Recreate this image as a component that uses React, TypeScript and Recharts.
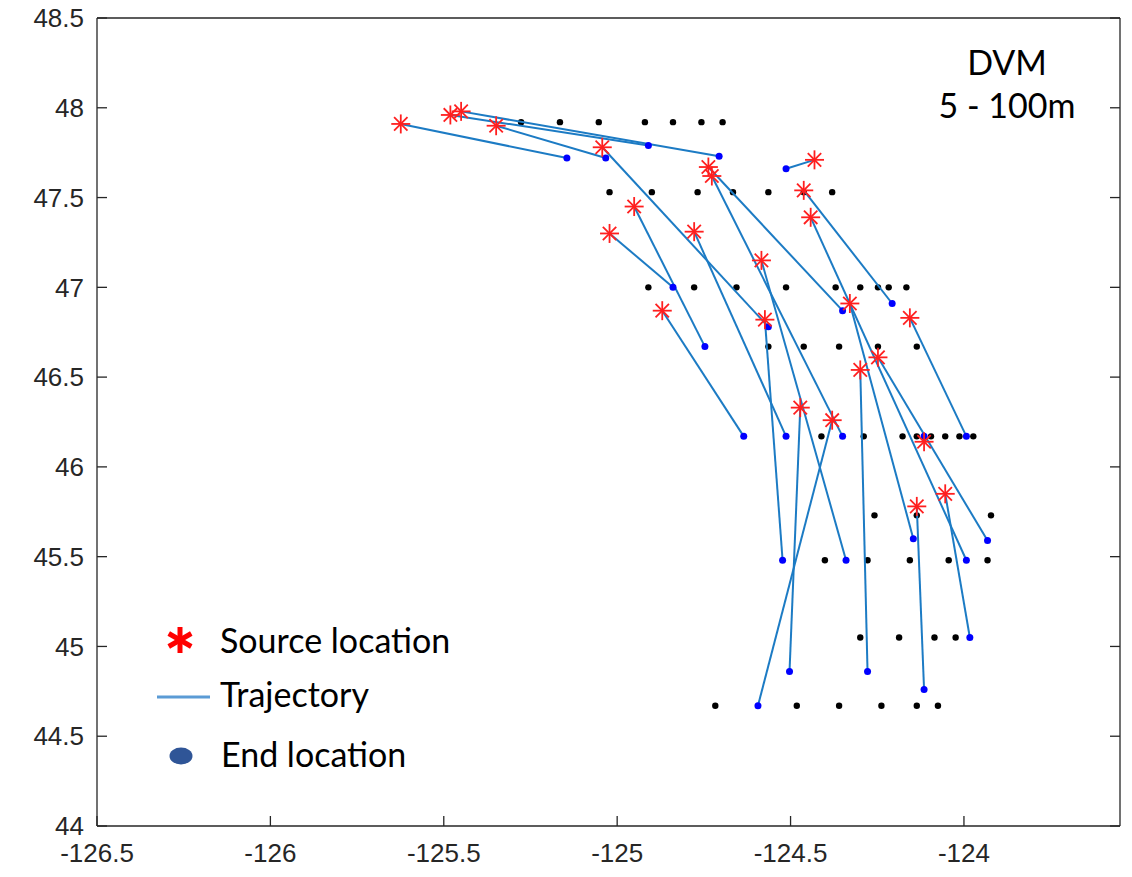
import React from 'react';
import { ScatterChart, Scatter, XAxis, YAxis } from 'recharts';

// chart size = whole window
const W = 1132;
const H = 877;

const lonTicks = [-126.5, -126, -125.5, -125, -124.5, -124];
const latTicks = [44, 44.5, 45, 45.5, 46, 46.5, 47, 47.5, 48, 48.5];

// release grid (black dots), [lon, lat]
const gridPoints: [number, number][] = [
  [-125.277, 47.92], [-125.165, 47.92], [-125.053, 47.92], [-124.92, 47.92], [-124.839, 47.92], [-124.757, 47.92], [-124.696, 47.92],
  [-125.022, 47.53], [-124.9, 47.53], [-124.768, 47.53], [-124.666, 47.53], [-124.564, 47.53], [-124.462, 47.53], [-124.38, 47.53],
  [-124.91, 47.0], [-124.778, 47.0], [-124.656, 47.0], [-124.513, 47.0], [-124.37, 47.0], [-124.299, 47.0], [-124.248, 47.0], [-124.217, 47.0], [-124.166, 47.0],
  [-124.564, 46.67], [-124.462, 46.67], [-124.36, 46.67], [-124.248, 46.67], [-124.136, 46.67],
  [-124.411, 46.17], [-124.289, 46.17], [-124.177, 46.17], [-124.136, 46.17], [-124.095, 46.17], [-124.054, 46.17], [-124.013, 46.17], [-123.973, 46.17],
  [-124.258, 45.73], [-124.136, 45.73], [-123.922, 45.73],
  [-124.401, 45.48], [-124.278, 45.48], [-124.156, 45.48], [-124.044, 45.48], [-123.932, 45.48],
  [-124.299, 45.05], [-124.187, 45.05], [-124.085, 45.05], [-124.024, 45.05],
  [-124.717, 44.67], [-124.482, 44.67], [-124.36, 44.67], [-124.238, 44.67], [-124.136, 44.67], [-124.075, 44.67],
];

// source locations (red asterisks)
const sourcePoints: [number, number][] = [
  [-125.624, 47.91], [-125.481, 47.96], [-125.45, 47.98], [-125.349, 47.9], [-125.043, 47.78],
  [-124.737, 47.67], [-124.727, 47.62], [-124.431, 47.71], [-124.462, 47.54], [-124.442, 47.39],
  [-124.951, 47.45], [-125.022, 47.3], [-124.778, 47.31], [-124.584, 47.15], [-124.87, 46.87],
  [-124.574, 46.82], [-124.329, 46.91], [-124.156, 46.83], [-124.248, 46.61], [-124.299, 46.54],
  [-124.472, 46.33], [-124.38, 46.26], [-124.115, 46.14], [-124.136, 45.78], [-124.054, 45.85],
];

// end locations (blue dots), same order as sources
const endPoints: [number, number][] = [
  [-125.145, 47.72], [-124.91, 47.79], [-124.706, 47.73], [-125.033, 47.72], [-124.564, 46.78],
  [-124.35, 46.87], [-124.35, 46.17], [-124.513, 47.66], [-124.207, 46.91], [-123.993, 45.48],
  [-124.747, 46.67], [-124.839, 47.0], [-124.513, 46.17], [-124.34, 45.48], [-124.635, 46.17],
  [-124.523, 45.48], [-124.146, 45.6], [-123.993, 46.17], [-123.932, 45.59], [-124.278, 44.86],
  [-124.503, 44.86], [-124.594, 44.67], [-124.115, 46.17], [-124.115, 44.76], [-123.983, 45.05],
];

const toXY = ([lon, lat]: [number, number]) => ({ lon, lat });
const gridData = gridPoints.map(toXY);
const sourceData = sourcePoints.map(toXY);
const endData = endPoints.map(toXY);
const trajectories = sourcePoints.map((s, i) => [toXY(s), toXY(endPoints[i])]);

const lonDomain = [-126.5, -123.55];
const latDomain = [44, 48.5];

const axisColor = '#262626';
const lineColor = '#1c7bc4';
const tickFont = { fill: axisColor, fontSize: 26, fontFamily: '"Liberation Sans", Arial, sans-serif' };
const textFont = 'Lato, "Open Sans", sans-serif';

const BlackDot = (p: any) => <circle cx={p.cx} cy={p.cy} r={3.2} fill="#000" />;
const BlueDot = (p: any) => <circle cx={p.cx} cy={p.cy} r={3.5} fill="#0000ff" />;
const Nothing = () => <g />;

// matlab style '*' marker
const Asterisk = (p: any) => {
  const { cx, cy } = p;
  const r = 9.5;
  const d = 6.7;
  return (
    <g stroke="#ff1f1f" strokeWidth={1.8}>
      <line x1={cx - r} y1={cy} x2={cx + r} y2={cy} />
      <line x1={cx} y1={cy - r} x2={cx} y2={cy + r} />
      <line x1={cx - d} y1={cy - d} x2={cx + d} y2={cy + d} />
      <line x1={cx - d} y1={cy + d} x2={cx + d} y2={cy - d} />
    </g>
  );
};

// legend + annotation drawn on top of the plot
const Overlay = () => {
  const ax = 180;
  const ay = 640;
  const a = 13;
  const c = Math.cos(Math.PI / 6) * a;
  const s = Math.sin(Math.PI / 6) * a;
  return (
    <svg width={W} height={H} style={{ position: 'absolute', left: 0, top: 0, pointerEvents: 'none' }}>
      <g fontFamily={textFont} fontSize={34} fill="#000">
        <text x={1007} y={75} textAnchor="middle">DVM</text>
        <text x={1007} y={118} textAnchor="middle">5 - 100m</text>

        <g stroke="#ff0000" strokeWidth={5}>
          <line x1={ax} y1={ay - a} x2={ax} y2={ay + a} />
          <line x1={ax - c} y1={ay - s} x2={ax + c} y2={ay + s} />
          <line x1={ax - c} y1={ay + s} x2={ax + c} y2={ay - s} />
        </g>
        <text x={220} y={653}>Source location</text>

        <line x1={157} y1={697} x2={210} y2={697} stroke="#5b9bd5" strokeWidth={3} />
        <text x={220} y={707}>Trajectory</text>

        <ellipse cx={181} cy={756} rx={11.5} ry={8.5} fill="#2f5597" />
        <text x={221} y={767}>End location</text>
      </g>
    </svg>
  );
};

export default function App() {
  return (
    <div style={{ position: 'absolute', left: 0, top: 0, width: W, height: H, background: '#fff' }}>
      <ScatterChart width={W} height={H} margin={{ top: 0, right: 0, bottom: 0, left: 0 }}>
        <XAxis
          type="number"
          dataKey="lon"
          domain={lonDomain}
          ticks={lonTicks}
          allowDataOverflow
          interval={0}
          height={51}
          tickSize={-10}
          tickMargin={28}
          stroke={axisColor}
          strokeWidth={1.3}
          tick={tickFont}
        />
        <XAxis
          xAxisId="top"
          orientation="top"
          type="number"
          domain={lonDomain}
          ticks={lonTicks}
          allowDataOverflow
          interval={0}
          height={18}
          tickSize={-10}
          tickFormatter={() => ''}
          stroke={axisColor}
          strokeWidth={1.3}
        />
        <YAxis
          type="number"
          dataKey="lat"
          domain={latDomain}
          ticks={latTicks}
          allowDataOverflow
          interval={0}
          width={97}
          tickSize={-10}
          tickMargin={23}
          stroke={axisColor}
          strokeWidth={1.3}
          tick={tickFont}
        />
        <YAxis
          yAxisId="right"
          orientation="right"
          type="number"
          domain={latDomain}
          ticks={latTicks}
          allowDataOverflow
          interval={0}
          width={12}
          tickSize={-10}
          tickFormatter={() => ''}
          stroke={axisColor}
          strokeWidth={1.3}
        />

        <Scatter data={gridData} shape={BlackDot} isAnimationActive={false} />
        {trajectories.map((seg, i) => (
          <Scatter
            key={'traj' + i}
            data={seg}
            line={{ stroke: lineColor, strokeWidth: 2 }}
            shape={Nothing}
            isAnimationActive={false}
          />
        ))}
        <Scatter data={endData} shape={BlueDot} isAnimationActive={false} />
        <Scatter data={sourceData} shape={Asterisk} isAnimationActive={false} />
      </ScatterChart>
      <Overlay />
    </div>
  );
}
